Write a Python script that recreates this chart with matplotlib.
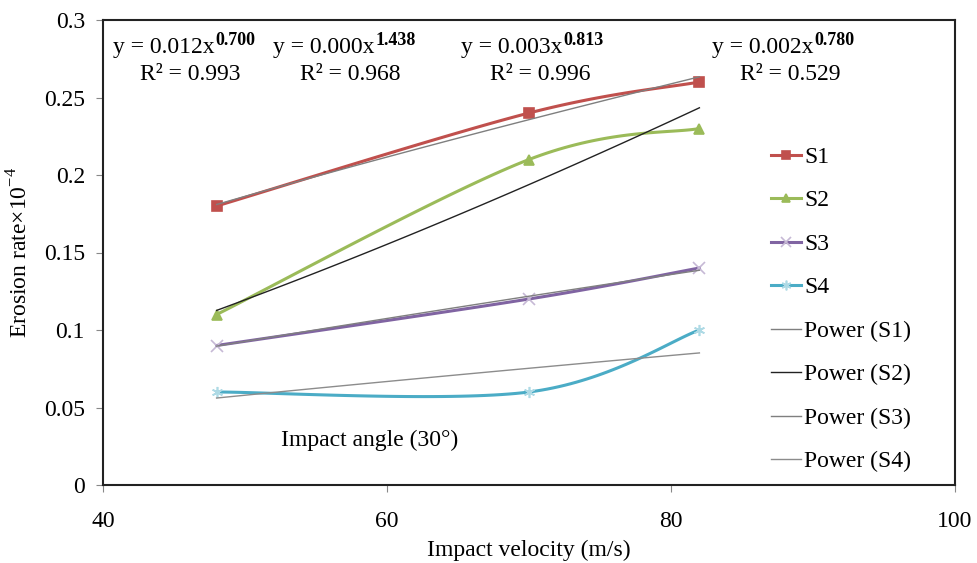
import numpy as np
import matplotlib
matplotlib.use("Agg")
import matplotlib.pyplot as plt

plt.rcParams['font.family'] = ['Liberation Serif', 'DejaVu Serif']
plt.rcParams['mathtext.fontset'] = 'custom'
plt.rcParams['mathtext.rm'] = 'Liberation Serif'
plt.rcParams['mathtext.bf'] = 'Liberation Serif:bold'

velocity = [48, 70, 82]
s1 = [0.18, 0.24, 0.26]
s2 = [0.11, 0.21, 0.23]
s3 = [0.09, 0.12, 0.14]
s4 = [0.06, 0.06, 0.10]
series_names = ['S1', 'S2', 'S3', 'S4']
series_colors = ['#C0504D', '#9BBB59', '#8064A2', '#4BACC6']
series_markers = ['s', '^', 'x', (6, 2, 0)]
trend_colors = ['#7f7f7f', '#222222', '#7f7f7f', '#8c8c8c']
eq_coef = ['0.012', '0.000', '0.003', '0.002']
eq_exp = ['0.700', '1.438', '0.813', '0.780']
eq_r2 = ['0.993', '0.968', '0.996', '0.529']

FS = 17


def excel_smooth(x, y, n=40):
    x = np.asarray(x, float); y = np.asarray(y, float)
    P = np.column_stack([x, y])
    out = []
    for i in range(len(P) - 1):
        p0 = P[i - 1] if i > 0 else P[i]
        p1 = P[i]; p2 = P[i + 1]
        p3 = P[i + 2] if i + 2 < len(P) else P[i + 1]
        c1 = p1 + (p2 - p0) / 6.0
        c2 = p2 - (p3 - p1) / 6.0
        t = np.linspace(0, 1, n)[:, None]
        seg = (1 - t) ** 3 * p1 + 3 * (1 - t) ** 2 * t * c1 + 3 * (1 - t) * t ** 2 * c2 + t ** 3 * p2
        out.append(seg if i == 0 else seg[1:])
    s = np.vstack(out)
    return s[:, 0], s[:, 1]


fig = plt.figure(figsize=(9.78, 5.63), dpi=100)
ax = fig.add_axes([103 / 978, 1 - 485 / 563, (955 - 103) / 978, (485 - 20) / 563])

all_series = [s1, s2, s3, s4]
handles = []
for name, ys, c, m in zip(series_names, all_series, series_colors, series_markers):
    sx, sy = excel_smooth(velocity, ys)
    ax.plot(sx, sy, color=c, lw=2.2, zorder=3)
    ms = 7 if m in ('s', '^') else 8
    mec = c if m in ('s', '^') else matplotlib.colors.to_hex(
        0.45 * np.array(matplotlib.colors.to_rgb(c)) + 0.55)
    ax.plot(velocity, ys, ls='none', marker=m, color=c, mec=mec, ms=ms, mew=1.2, zorder=4)
    h, = ax.plot([], [], color=c, lw=2.2, marker=m, mec=mec, ms=ms - 1, mew=1.2, label=name)
    handles.append(h)

xv = np.asarray(velocity, float)
for name, ys, tc in zip(series_names, all_series, trend_colors):
    b, loga = np.polyfit(np.log(xv), np.log(ys), 1)
    xt = np.linspace(xv[0], xv[-1], 50)
    ax.plot(xt, np.exp(loga) * xt ** b, color=tc, lw=1.0, zorder=5)
    h, = ax.plot([], [], color=tc, lw=1.0, label='Power (%s)' % name)
    handles.append(h)

ax.set_xlim(40, 100)
ax.set_ylim(0, 0.3)
ax.set_xticks([40, 60, 80, 100])
ax.set_yticks([0, 0.05, 0.1, 0.15, 0.2, 0.25, 0.3])
ax.set_yticklabels(['0', '0.05', '0.1', '0.15', '0.2', '0.25', '0.3'])
ax.tick_params(axis='x', direction='out', length=5, pad=14, labelsize=FS, color='#888888')
ax.tick_params(axis='y', direction='out', length=5, pad=8, labelsize=FS, color='#888888')
for sp in ax.spines.values():
    sp.set_linewidth(1.5)
    sp.set_color('#222222')

ax.set_xlabel('Impact velocity (m/s)', fontsize=FS, labelpad=5)
ax.set_ylabel('Erosion rate×10$^{-4}$', fontsize=FS, labelpad=8)

eq_pos = [(113, 190), (273, 350), (461, 540), (712, 790)]
for (xl, xc), co, ex, r2 in zip(eq_pos, eq_coef, eq_exp, eq_r2):
    t = fig.text(xl / 978, 1 - 47 / 563, 'y = %sx' % co, fontsize=FS,
                 ha='left', va='center')
    fig.add_artist(matplotlib.text.Annotation(ex, xy=(1, 0.42), xycoords=t, xytext=(0.5, 0),
                                              textcoords='offset points', fontsize=13,
                                              fontweight='bold', ha='left', va='bottom'))
    fig.text(xc / 978, 1 - 75 / 563, 'R² = %s' % r2, fontsize=FS, ha='center', va='center')

fig.text(281 / 978, 1 - 440 / 563, 'Impact angle (30°)', fontsize=FS, ha='left', va='center')

leg = ax.legend(handles=handles, loc='upper left',
                bbox_to_anchor=((762 - 103) / 852, 1 - (137 - 20) / 465),
                frameon=False, fontsize=FS, handlelength=1.25, handletextpad=0.15,
                labelspacing=0.93, borderaxespad=0)

fig.savefig('out.png', dpi=100)
